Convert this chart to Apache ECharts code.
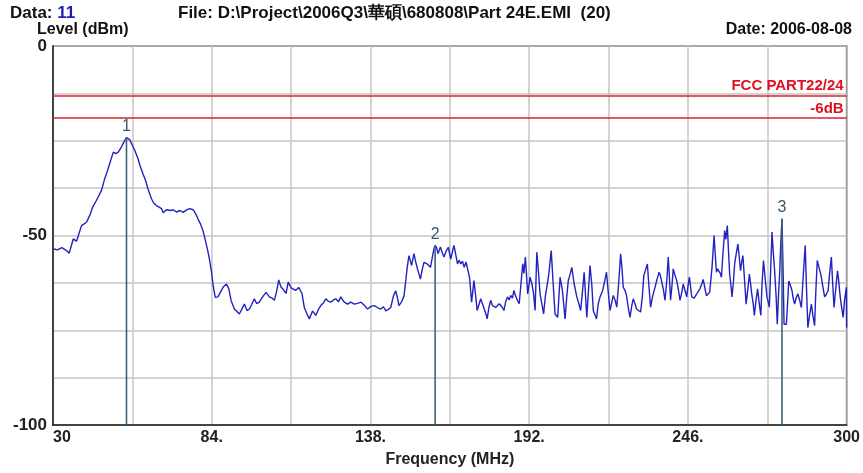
<!DOCTYPE html>
<html><head><meta charset="utf-8">
<script src="https://cdn.jsdelivr.net/npm/echarts@6/dist/echarts.min.js"></script>
<style>html,body{margin:0;padding:0;background:#fff}#c{width:863px;height:473px}</style>
</head><body><div id="c"></div>
<script>
// ---- data ----
const freqs = [30,31.5,33,34.5,35.5,36.9,38,38.6,39.7,41.4,42.5,43.5,44.8,46.5,47.6,48.5,49.3,50.5,51.3,52.2,53.3,54.2,55,56.1,57,57.8,58.9,59.7,60.6,61.5,62.3,63.5,64.3,65.2,66.1,66.9,67.5,68.6,70,70.9,72,73.2,74.3,75.3,76.5,77.7,78.5,79.3,80.2,81,81.6,82.1,82.7,83.3,83.9,84.4,85.2,86.1,86.7,87.2,88,89,89.8,90.6,91.7,92.5,93.4,94.2,95.1,96,96.8,97.6,98.5,99.3,100.2,101.3,102.5,103.6,104.5,105.3,106,106.8,107.5,108.2,109.3,110,111,112.5,113.6,114.7,115.5,116.3,117.2,118.3,119.4,120.3,121.1,122,122.8,123.6,124.5,125.4,126.2,127.1,127.9,129,130.2,131.3,132.5,133.6,134.8,136,137,138.2,139.3,140.4,141.5,142.4,143.2,144.1,144.9,145.8,146.6,147.2,147.7,148.6,149.4,150,150.5,151.1,152,152.8,153.4,154,155,155.6,156.2,157.3,158.4,159,159.6,160,160.5,161,161.8,162.4,163,163.8,164.5,165.3,166.4,167,167.6,168.2,168.7,169.3,169.9,170.5,171,171.7,172.4,173.2,173.8,174.3,175,175.5,176.1,176.7,177.2,177.7,178.3,178.9,179.5,180,180.6,181.2,181.8,182.3,182.9,183.4,184,184.6,185.2,185.7,186.3,186.8,187.4,188,188.6,189.1,189.8,190.2,190.7,191.5,192.3,193,193.5,194,194.6,195.2,195.7,196.3,196.9,197.5,198,198.7,199.5,200.1,200.8,201.7,202.5,203.3,204.2,204.8,205.3,206,206.5,207.3,208.2,208.9,209.5,210.1,210.7,211.6,212.2,212.7,213.3,213.8,214.4,214.9,215.5,216.1,217,217.7,218.3,218.9,219.5,220,220.6,221.2,221.8,222.5,223.1,223.6,224,224.6,225.1,225.7,226.3,226.9,227.4,228,228.5,229.2,229.9,230.5,231,231.6,232.2,232.7,233.3,234,234.8,235.5,236.2,236.6,237,237.6,238.2,238.8,239.3,239.7,240.1,240.6,241,241.6,242.2,242.8,243.3,243.9,244.4,245,245.6,246,246.5,246.9,247.3,248.1,249,249.5,250.1,250.7,251.2,251.8,252.3,252.9,253.4,254.2,254.9,255.3,255.7,256.1,256.5,257,257.4,257.9,258.5,258.9,259.4,259.8,260.2,260.6,261,261.5,261.9,262.4,263,263.5,263.9,264.3,264.7,265.2,265.8,266.4,266.9,267.3,267.7,268.2,268.6,269.1,269.7,270.2,270.8,271.2,271.7,272.3,272.9,273.3,273.7,274.2,274.6,275,275.5,276,276.4,276.8,277.2,277.6,278,278.4,278.7,279.1,279.5,279.9,280.3,280.8,281.4,281.8,282.3,282.8,283.4,284,284.6,285.2,285.9,286.3,286.8,287.4,288,288.5,289.1,289.5,290,290.6,291.2,291.8,292.5,293.1,293.7,294.2,294.8,295.2,295.7,296.3,296.9,297.3,297.7,298.2,298.8,299.3,299.9,300];
const levels = [-53.5,-53.8,-53.2,-53.9,-54.7,-50.9,-51.5,-51.8,-47.4,-46.5,-44.7,-42.5,-40.7,-38.1,-35,-33,-31,-28,-28.4,-28,-26.6,-25.2,-24.2,-24.7,-26.2,-27.5,-29.7,-31.8,-33.7,-35.5,-37.7,-40.3,-41.5,-42.1,-42.5,-42.9,-44,-43.2,-43.4,-43.2,-43.8,-43.4,-43.9,-43.3,-42.9,-43.2,-44.2,-45.6,-47,-48.7,-50.5,-52.2,-54.2,-56.6,-59.5,-62.8,-66.3,-66.2,-65.9,-64.6,-63.5,-62.8,-64,-67.2,-69.4,-70,-70.7,-69.5,-68.1,-69.8,-69.4,-68.2,-66.7,-68,-67.6,-66.2,-65,-66.2,-66.5,-67.1,-65,-61.7,-63.5,-64.1,-65.3,-62.3,-63.8,-64.5,-63.7,-65.3,-69,-70.5,-72,-69.9,-71.1,-69.5,-68.5,-67.8,-66.7,-67.3,-67.6,-67,-66.7,-67.5,-66.2,-67.5,-68.1,-67.6,-68.1,-67.9,-67.6,-68.5,-69.4,-68.7,-68.5,-69,-69.4,-68.8,-69.9,-69.5,-69,-66,-64.6,-66.5,-68.5,-67.5,-66,-62,-58.4,-55.3,-57.9,-54.8,-57,-58.8,-61.5,-59,-57.1,-57.5,-58.4,-56,-53.5,-52.6,-53.2,-54.8,-53,-54.5,-55.7,-54,-53.1,-56.2,-52.6,-55,-57.5,-56.5,-57.5,-56.8,-58.4,-57,-57.5,-61,-67.6,-61.9,-66,-69.8,-68,-66.7,-68,-69.4,-70.5,-72,-69,-67.1,-68.5,-68.1,-69,-69.4,-68,-67.6,-69,-69.8,-67.5,-66.2,-67,-65.8,-66.5,-64.5,-66,-67.1,-68,-68.5,-57.5,-60,-55.7,-65.4,-61,-63,-65.4,-69.8,-54.4,-60,-65.4,-68,-70.7,-66,-63.7,-60,-54,-62,-70.7,-71.6,-61,-64.5,-72,-66,-61.9,-60,-58.4,-62.8,-66.2,-68,-69.8,-65,-59.7,-71.6,-64,-57.9,-63,-69.8,-71,-72,-68,-66.2,-64.5,-62,-59.7,-65,-69.8,-68,-65.8,-67,-68.9,-62,-54.8,-59,-63.7,-64.5,-65.8,-69,-71.6,-68.5,-66.7,-68,-69.4,-69.8,-70.2,-66,-60.6,-59,-57.5,-63,-68.9,-66,-63.7,-61.5,-59.7,-60.5,-61,-64,-67.1,-62,-55.7,-61,-67.1,-63,-58.8,-60.5,-61.9,-64.5,-67.1,-65,-62.8,-64.5,-66.2,-63.5,-61,-63.5,-66.2,-66.5,-65.4,-65.9,-64,-62.8,-61.6,-64,-65.9,-65.5,-65,-58.4,-50,-55,-59.7,-58.8,-58.4,-60,-61,-55,-48.7,-51,-47.4,-54,-60.2,-63,-66.2,-62,-57.5,-55,-52.2,-56,-59.3,-57,-55.3,-61,-68.1,-64,-60.2,-62.5,-65.4,-68,-71.1,-67.5,-64.1,-67.5,-71.1,-63,-56.6,-61.5,-66.2,-67.5,-68.9,-58,-49.1,-54,-59.3,-66,-73.4,-66,-60.2,-52,-45.6,-60,-73.4,-73.4,-73.4,-68,-62,-63,-64.5,-66.5,-68.1,-66.5,-65.4,-67,-69,-61,-52.6,-63,-74.3,-71,-68.1,-71,-73.8,-65,-56.6,-58.5,-60.2,-63,-66.2,-65.5,-64.5,-60,-55.7,-62,-69,-64,-59.3,-62,-65.4,-68.5,-71.6,-67,-63.7,-74.3];
const markerFreqs = [55, 160, 278];
const markerLevels = [-24.2, -52.6, -45.6];
const markerNames = ['1', '2', '3'];
const limitLevels = [-13, -19];
const limitNames = ['FCC PART22/24', '-6dB'];
const xTickValues = [30, 84, 138, 192, 246, 300];
const xTickLabels = ['30', '84.', '138.', '192.', '246.', '300'];
const yTickValues = [0, -50, -100];
const yTickLabels = ['0', '-50', '-100'];

const FONT = '"Liberation Sans Narrow","Liberation Sans",Arial,sans-serif';
const chart = echarts.init(document.getElementById('c'), null, {renderer: 'canvas'});
const trace = freqs.map((f, i) => [f, levels[i]]);
const markers = markerFreqs.map((f, i) => [f, markerLevels[i]]);

chart.setOption({
  animation: false,
  backgroundColor: '#fff',
  grid: {left: 53, right: 14, top: 46, bottom: 48, show: true, borderColor: '#222', borderWidth: 1.5, backgroundColor: 'transparent'},
  graphic: [
    {type: 'text', left: 10, top: 5, style: {text: '{a|Data: }{b|11}', rich: {
      a: {font: 'bold 17px ' + FONT, fill: '#111'}, b: {font: 'bold 17px ' + FONT, fill: '#1a1ab8'}}}},
    {type: 'text', left: 178, top: 5, style: {text: 'File: D:\\Project\\2006Q3\\華碩\\680808\\Part 24E.EMI  (20)', font: 'bold 17px ' + FONT, fill: '#111'}},
    {type: 'text', left: 37, top: 22, style: {text: 'Level (dBm)', font: 'bold 16px ' + FONT, fill: '#111'}},
    {type: 'text', right: 11, top: 22, style: {text: 'Date: 2006-08-08', font: 'bold 16px ' + FONT, fill: '#111'}}
  ],
  xAxis: [
    {type: 'value', min: 30, max: 300, show: false},
    {type: 'value', min: 0, max: 270, interval: 27, position: 'bottom',
     axisLine: {show: true, lineStyle: {color: '#222', width: 1.5}}, axisTick: {show: false},
     splitLine: {show: true, lineStyle: {color: '#c4c4c4', width: 1.5}},
     axisLabel: {margin: 5, color: '#222', fontFamily: FONT, fontWeight: 'bold', fontSize: 16, showMinLabel: true, showMaxLabel: true,
       rich: {first: {padding: [0, 0, 0, 18], color: '#222', fontFamily: FONT, fontWeight: 'bold', fontSize: 16}},
       formatter: v => { const i = xTickValues.indexOf(Math.round(v + 30)); if (i < 0) return ''; return i === 0 ? '{first|' + xTickLabels[i] + '}' : xTickLabels[i]; }},
     name: 'Frequency (MHz)', nameLocation: 'middle', nameGap: 27,
     nameTextStyle: {color: '#222', fontFamily: FONT, fontWeight: 'bold', fontSize: 16}}
  ],
  yAxis: {type: 'value', min: -100, max: 0, interval: 12.5,
    axisLine: {show: true, lineStyle: {color: '#222', width: 1.5}}, axisTick: {show: false},
    splitLine: {show: true, lineStyle: {color: '#c4c4c4', width: 1.5}},
    axisLabel: {margin: 6, color: '#222', fontFamily: FONT, fontWeight: 'bold', fontSize: 17,
      formatter: v => { const i = yTickValues.indexOf(v); return i >= 0 ? yTickLabels[i] : ''; }}},
  series: [
    {type: 'line', xAxisIndex: 0, data: trace, showSymbol: false, symbol: 'none',
     lineStyle: {color: '#2222c0', width: 1.4}, z: 3,
     markLine: {silent: true, symbol: 'none', animation: false,
       lineStyle: {color: '#d8232a', width: 1.5, type: 'solid'},
       label: {position: 'insideEndTop', color: '#e01020', fontFamily: FONT, fontWeight: 'bold', fontSize: 15, distance: [3, 2]},
       data: limitLevels.map((y, i) => ({yAxis: y, label: {formatter: limitNames[i]}}))}},
    {type: 'custom', xAxisIndex: 0, data: markers, z: 4,
     renderItem: (params, api) => {
       const f = api.value(0), l = api.value(1);
       const top = api.coord([f, l]);
       const bot = api.coord([f, -100]);
       return {type: 'group', children: [
         {type: 'line', shape: {x1: top[0], y1: top[1], x2: bot[0], y2: bot[1]}, style: {stroke: '#3b6178', lineWidth: 1.6}},
         {type: 'text', style: {text: markerNames[params.dataIndex], x: top[0], y: top[1] - 3, align: 'center', verticalAlign: 'bottom',
           font: '16px ' + FONT, fill: '#35586e'}}
       ]};
     }}
  ]
});
</script></body></html>
